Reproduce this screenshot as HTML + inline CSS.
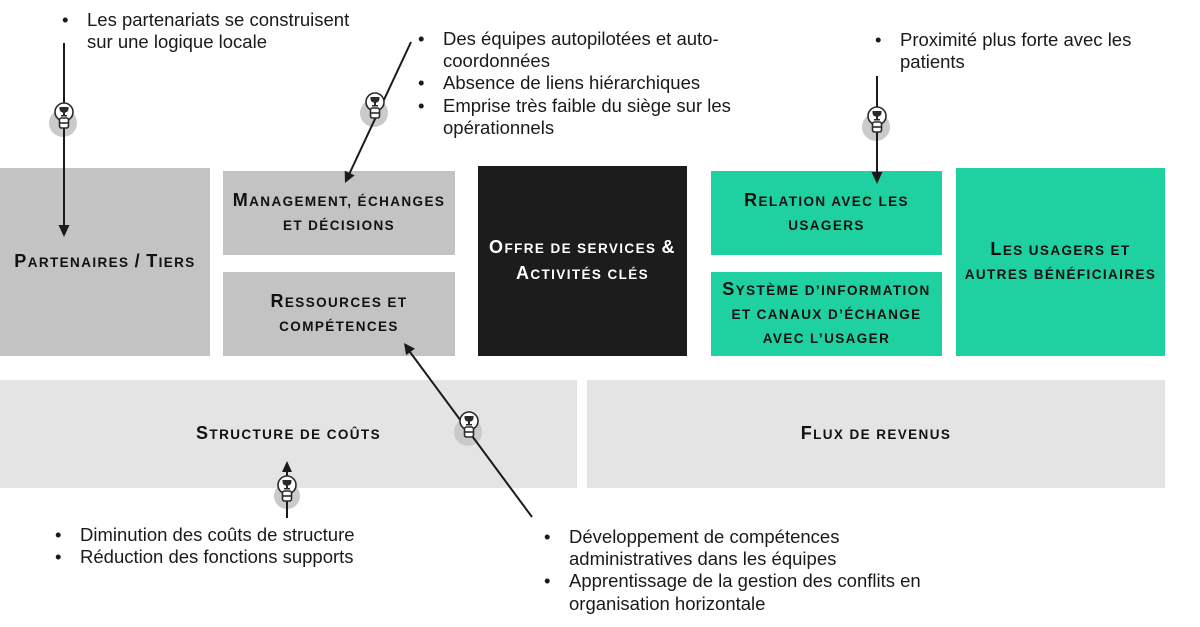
<!DOCTYPE html>
<html><head><meta charset="utf-8"><style>
html,body{margin:0;padding:0;background:#fff;}
#c{position:relative;width:1200px;height:627px;overflow:hidden;font-family:"Liberation Sans",Arial,sans-serif;background:#fff;}
svg{position:absolute;left:0;top:0;}
.b{position:absolute;display:flex;align-items:center;justify-content:center;text-align:center;font-weight:bold;font-size:13.5px;line-height:24.5px;letter-spacing:1.4px;color:#111;}
.b .c{font-size:18px;}
.l{position:absolute;font-size:18.5px;line-height:22.4px;color:#1a1a1a;white-space:nowrap;}
.l div{position:relative;}
.l div:before{content:"•";position:absolute;left:-25px;top:0;}
</style></head><body><div id="c">
<svg width="1200" height="627" viewBox="0 0 1200 627">
<rect x="0" y="168" width="210" height="188" fill="#c3c3c3"/>
<rect x="223" y="171" width="232" height="84" fill="#c3c3c3"/>
<rect x="223" y="272" width="232" height="84" fill="#c3c3c3"/>
<rect x="478" y="166" width="209" height="190" fill="#1c1c1c"/>
<rect x="711" y="171" width="231" height="84" fill="#1fd1a0"/>
<rect x="711" y="272" width="231" height="84" fill="#1fd1a0"/>
<rect x="956" y="168" width="209" height="188" fill="#1fd1a0"/>
<rect x="0" y="380" width="577" height="108" fill="#e4e4e4"/>
<rect x="587" y="380" width="578" height="108" fill="#e4e4e4"/>
</svg>

<div class="b" style="left:0;top:168px;width:210px;height:188px;"><div><span class="c">P</span>ARTENAIRES <span class="c">/</span> <span class="c">T</span>IERS</div></div>
<div class="b" style="left:223px;top:171px;width:232px;height:84px;"><div><span class="c">M</span>ANAGEMENT, ÉCHANGES<br>ET DÉCISIONS</div></div>
<div class="b" style="left:223px;top:272px;width:232px;height:84px;"><div><span class="c">R</span>ESSOURCES ET<br>COMPÉTENCES</div></div>
<div class="b" style="left:478px;top:166px;width:209px;height:190px;color:#fff;"><div><span class="c">O</span>FFRE DE SERVICES <span class="c">&amp;</span><br><span class="c">A</span>CTIVITÉS CLÉS</div></div>
<div class="b" style="left:711px;top:171px;width:231px;height:84px;"><div><span class="c">R</span>ELATION AVEC LES<br>USAGERS</div></div>
<div class="b" style="left:711px;top:272px;width:231px;height:84px;line-height:24px;"><div><span class="c">S</span>YSTÈME D’INFORMATION<br>ET CANAUX D’ÉCHANGE<br>AVEC L’USAGER</div></div>
<div class="b" style="left:956px;top:168px;width:209px;height:188px;"><div><span class="c">L</span>ES USAGERS ET<br>AUTRES BÉNÉFICIAIRES</div></div>
<div class="b" style="left:0;top:380px;width:577px;height:108px;"><div><span class="c">S</span>TRUCTURE DE COÛTS</div></div>
<div class="b" style="left:587px;top:380px;width:578px;height:108px;"><div><span class="c">F</span>LUX DE REVENUS</div></div>

<div class="l" style="left:87px;top:8.5px;"><div>Les partenariats se construisent<br>sur une logique locale</div></div>
<div class="l" style="left:443px;top:27.5px;"><div>Des équipes autopilotées et auto-<br>coordonnées</div><div>Absence de liens hiérarchiques</div><div>Emprise très faible du siège sur les<br>opérationnels</div></div>
<div class="l" style="left:900px;top:29px;"><div>Proximité plus forte avec les<br>patients</div></div>
<div class="l" style="left:80px;top:523.5px;"><div>Diminution des coûts de structure</div><div>Réduction des fonctions supports</div></div>
<div class="l" style="left:569px;top:525.5px;"><div>Développement de compétences<br>administratives dans les équipes</div><div>Apprentissage de la gestion des conflits en<br>organisation horizontale</div></div>

<svg width="1200" height="627" viewBox="0 0 1200 627">
<g fill="#cacaca">
<circle cx="63" cy="123" r="14"/>
<circle cx="374" cy="113" r="14"/>
<circle cx="876" cy="127" r="14"/>
<circle cx="468" cy="432" r="14"/>
<circle cx="287" cy="496" r="13"/>
</g>
<g stroke="#1a1a1a" stroke-width="2" fill="none">
<path d="M64 43 V226"/>
<path d="M411 42 L349.5 173.5"/>
<path d="M877 76 V173"/>
<path d="M532 517 L410 352"/>
<path d="M287 518 V471"/>
</g>
<g fill="#1a1a1a">
<polygon points="58.5,225 69.5,225 64,237"/>
<polygon points="354.6,175.4 344.7,170.7 345,183"/>
<polygon points="871.5,172 882.5,172 877,184"/>
<polygon points="414.9,348.6 406.1,355.1 404,343"/>
<polygon points="282,472 292,472 287,461"/>
</g>
<g id="bulbs" stroke="#2a2a2a" stroke-width="1.6">
<g transform="translate(64,112)"><circle r="9" fill="#fff"/><rect x="-4.5" y="6" width="9" height="10" rx="2" fill="#fff"/><line x1="-4.5" x2="4.5" y1="11" y2="11"/><path d="M-4.5 -5 h9 v1.5 c0 3 -2 4 -3.5 4 v2.5 h2 v1.5 h-6 v-1.5 h2 v-2.5 c-1.5 0 -3.5 -1 -3.5 -4 z" fill="#2a2a2a" stroke="none"/></g>
<g transform="translate(375,102)"><circle r="9" fill="#fff"/><rect x="-4.5" y="6" width="9" height="10" rx="2" fill="#fff"/><line x1="-4.5" x2="4.5" y1="11" y2="11"/><path d="M-4.5 -5 h9 v1.5 c0 3 -2 4 -3.5 4 v2.5 h2 v1.5 h-6 v-1.5 h2 v-2.5 c-1.5 0 -3.5 -1 -3.5 -4 z" fill="#2a2a2a" stroke="none"/></g>
<g transform="translate(877,116)"><circle r="9" fill="#fff"/><rect x="-4.5" y="6" width="9" height="10" rx="2" fill="#fff"/><line x1="-4.5" x2="4.5" y1="11" y2="11"/><path d="M-4.5 -5 h9 v1.5 c0 3 -2 4 -3.5 4 v2.5 h2 v1.5 h-6 v-1.5 h2 v-2.5 c-1.5 0 -3.5 -1 -3.5 -4 z" fill="#2a2a2a" stroke="none"/></g>
<g transform="translate(469,421)"><circle r="9" fill="#fff"/><rect x="-4.5" y="6" width="9" height="10" rx="2" fill="#fff"/><line x1="-4.5" x2="4.5" y1="11" y2="11"/><path d="M-4.5 -5 h9 v1.5 c0 3 -2 4 -3.5 4 v2.5 h2 v1.5 h-6 v-1.5 h2 v-2.5 c-1.5 0 -3.5 -1 -3.5 -4 z" fill="#2a2a2a" stroke="none"/></g>
<g transform="translate(287,485)"><circle r="9" fill="#fff"/><rect x="-4.5" y="6" width="9" height="10" rx="2" fill="#fff"/><line x1="-4.5" x2="4.5" y1="11" y2="11"/><path d="M-4.5 -5 h9 v1.5 c0 3 -2 4 -3.5 4 v2.5 h2 v1.5 h-6 v-1.5 h2 v-2.5 c-1.5 0 -3.5 -1 -3.5 -4 z" fill="#2a2a2a" stroke="none"/></g>
</g>
</svg>
</div></body></html>
